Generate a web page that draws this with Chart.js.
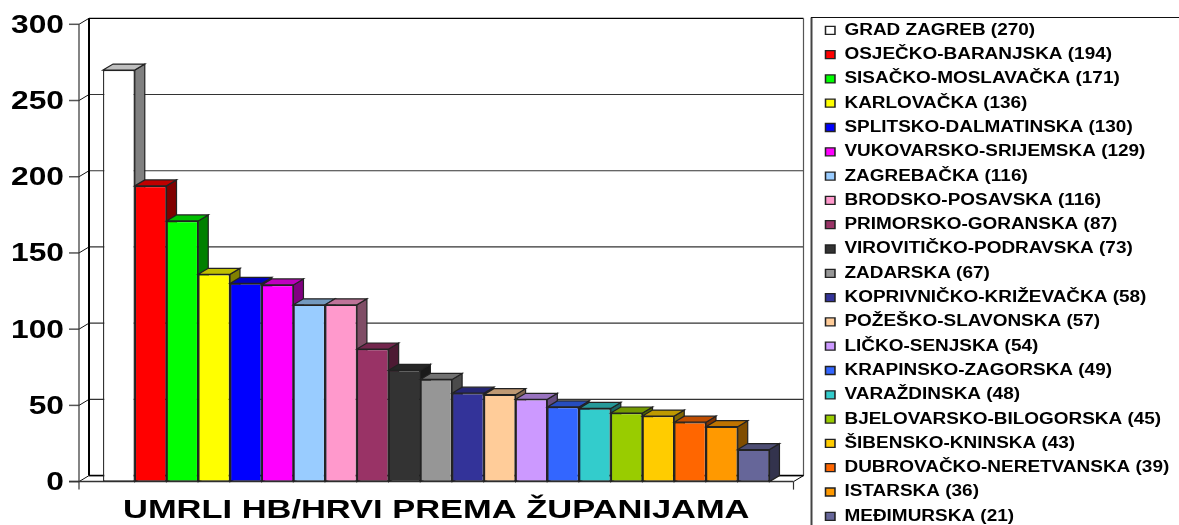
<!DOCTYPE html>
<html>
<head>
<meta charset="utf-8">
<title>Umrli HB/Hrvi prema županijama</title>
<script src="https://cdn.jsdelivr.net/npm/chart.js@4"></script>
<style>
    html, body { margin: 0; padding: 0; background: #fff; overflow: hidden; }
    #wrap { width: 1179px; height: 525px; position: relative; }
</style>
</head>
<body>
<div id="wrap"><canvas id="grafikon"></canvas></div>
<script>
const naslov = 'UMRLI HB/HRVI PREMA ŽUPANIJAMA';
const zupanije = [
    'GRAD ZAGREB', 'OSJEČKO-BARANJSKA', 'SISAČKO-MOSLAVAČKA', 'KARLOVAČKA',
    'SPLITSKO-DALMATINSKA', 'VUKOVARSKO-SRIJEMSKA', 'ZAGREBAČKA', 'BRODSKO-POSAVSKA',
    'PRIMORSKO-GORANSKA', 'VIROVITIČKO-PODRAVSKA', 'ZADARSKA', 'KOPRIVNIČKO-KRIŽEVAČKA',
    'POŽEŠKO-SLAVONSKA', 'LIČKO-SENJSKA', 'KRAPINSKO-ZAGORSKA', 'VARAŽDINSKA',
    'BJELOVARSKO-BILOGORSKA', 'ŠIBENSKO-KNINSKA', 'DUBROVAČKO-NERETVANSKA', 'ISTARSKA', 'MEĐIMURSKA'
];
const umrli = [270, 194, 171, 136, 130, 129, 116, 116, 87, 73, 67, 58, 57, 54, 49, 48, 45, 43, 39, 36, 21];
const boje = [
    '#ffffff', '#ff0000', '#00ff00', '#ffff00', '#0000ff', '#ff00ff', '#99ccff', '#ff99cc',
    '#993366', '#333333', '#969696', '#333399', '#ffcc99', '#cc99ff', '#3366ff', '#33cccc',
    '#99cc00', '#ffcc00', '#ff6600', '#ff9900', '#666699'
];

// pomak dubine za 3D izgled
const dubinaX = 10;
const dubinaY = -6;
const legendaX = 825.5;
const legendaPadding = 8.3;

function zatamni(hex, k) {
    const n = parseInt(hex.slice(1), 16);
    const r = Math.round((n >> 16 & 255) * k);
    const g = Math.round((n >> 8 & 255) * k);
    const b = Math.round((n & 255) * k);
    return `rgb(${r},${g},${b})`;
}

function linija(ctx, x1, y1, x2, y2, boja, debljina) {
    ctx.strokeStyle = boja;
    ctx.lineWidth = debljina;
    ctx.beginPath();
    ctx.moveTo(x1, y1);
    ctx.lineTo(x2, y2);
    ctx.stroke();
}

function poligon(ctx, tocke, boja) {
    ctx.fillStyle = boja;
    ctx.strokeStyle = '#222';
    ctx.lineWidth = 1.2;
    ctx.beginPath();
    tocke.forEach((t, i) => i ? ctx.lineTo(t[0], t[1]) : ctx.moveTo(t[0], t[1]));
    ctx.closePath();
    ctx.fill();
    ctx.stroke();
}

// original je vodoravno razvučena slika pa se i tekst razvlači
function rozvuci(obj, metoda, ctx, x, k, dy) {
    if (obj.rozvuceno) return;
    obj.rozvuceno = true;
    const staro = obj[metoda];
    obj[metoda] = function (...args) {
        ctx.save();
        ctx.translate(x, dy);
        ctx.scale(k, 1);
        ctx.translate(-x, 0);
        staro.apply(this, args);
        ctx.restore();
    };
}

const zidovi = {
    id: 'zidovi',
    beforeDatasetsDraw(chart) {
        const ctx = chart.ctx;
        const { left, right, bottom } = chart.chartArea;
        const y = chart.scales.y;
        ctx.save();
        y.ticks.forEach(t => {
            const py = y.getPixelForValue(t.value);
            const boja = t.value === y.max ? '#000' : '#333';
            linija(ctx, left - 10, py, left, py, '#555', 1.5);
            linija(ctx, left, py, left + dubinaX, py + dubinaY, '#111', 1);
            linija(ctx, left + dubinaX, py + dubinaY, right + dubinaX, py + dubinaY, boja, 1.2);
        });
        linija(ctx, left + dubinaX, y.top + dubinaY, left + dubinaX, bottom + dubinaY, '#000', 2);
        linija(ctx, right + dubinaX, y.top + dubinaY, right + dubinaX, bottom + dubinaY, '#555', 1.2);
        linija(ctx, left + dubinaX, bottom + dubinaY, right + dubinaX, bottom + dubinaY, '#000', 1.5);
        linija(ctx, right, bottom, right + dubinaX, bottom + dubinaY, '#000', 1);
        linija(ctx, left, y.top, left, bottom + 8, '#333', 1.2);
        linija(ctx, left - 10, bottom, right, bottom, '#333', 1.5);
        linija(ctx, right, bottom, right, bottom + 8, '#333', 1.2);
        ctx.restore();
    },
    beforeDatasetDraw() {
        // stupce crta afterDatasetsDraw, slijeva nadesno
        return false;
    },
    afterDatasetsDraw(chart) {
        const ctx = chart.ctx;
        chart.data.datasets.forEach((ds, i) => {
            const el = chart.getDatasetMeta(i).data[0];
            const l = el.x - el.width / 2;
            const r = el.x + el.width / 2;
            ctx.save();
            poligon(ctx, [[r, el.y], [r + dubinaX, el.y + dubinaY], [r + dubinaX, el.base + dubinaY], [r, el.base]],
                zatamni(ds.backgroundColor, 0.5));
            poligon(ctx, [[l, el.y], [l + dubinaX, el.y + dubinaY], [r + dubinaX, el.y + dubinaY], [r, el.y]],
                zatamni(ds.backgroundColor, 0.75));
            ctx.restore();
            el.draw(ctx);
        });
    }
};

// okvir legende, odrezan rubom slike, kao u originalu
const okvirLegende = {
    id: 'okvirLegende',
    beforeDraw(chart) {
        const ctx = chart.ctx;
        chart.legend.left = legendaX - legendaPadding;
        chart.legend.right = 1400;
        chart.legend.top = 14;
        chart.legend.bottom = 600;
        rozvuci(chart.legend, 'draw', ctx, legendaX, 1.185, 0);
        rozvuci(chart.scales.y, 'drawLabels', ctx, chart.chartArea.left - 15, 1.27, 1.5);
        rozvuci(chart.scales.x, 'drawLabels', ctx, (chart.chartArea.left + chart.chartArea.right) / 2, 1.325, 0);
    },
    afterDraw(chart) {
        const ctx = chart.ctx;
        ctx.save();
        linija(ctx, 811.5, 525, 811.5, 17.5, '#444', 2);
        linija(ctx, 811, 17.5, 1179, 17.5, '#111', 1);
        ctx.restore();
    }
};

new Chart(document.getElementById('grafikon'), {
    type: 'bar',
    data: {
        labels: [naslov],
        datasets: zupanije.map((z, i) => ({
            label: `${z} (${umrli[i]})`,
            data: [umrli[i]],
            backgroundColor: boje[i],
            borderColor: '#222',
            borderWidth: 1.3,
            borderSkipped: false
        }))
    },
    options: {
        responsive: true,
        maintainAspectRatio: false,
        animation: false,
        categoryPercentage: 0.9327,
        barPercentage: 1,
        layout: { padding: { right: 121 } },
        scales: {
            x: {
                grid: { display: false, drawTicks: false },
                border: { display: false },
                afterFit(scale) { scale.height = 43.4; },
                ticks: {
                    color: '#000',
                    padding: 14,
                    maxRotation: 0,
                    font: { family: '"Liberation Sans"', weight: 'bold', size: 26 }
                }
            },
            y: {
                min: 0,
                max: 300,
                grid: { display: false, drawTicks: false },
                border: { display: false },
                afterFit(scale) { scale.width = 79; scale.paddingTop = 24.3; },
                ticks: {
                    stepSize: 50,
                    color: '#000',
                    padding: 15,
                    font: { family: '"Liberation Sans"', weight: 'bold', size: 25 }
                }
            }
        },
        plugins: {
            tooltip: { enabled: false },
            legend: {
                position: 'right',
                align: 'start',
                labels: {
                    boxWidth: 8,
                    boxHeight: 8,
                    padding: legendaPadding,
                    color: '#000',
                    font: { family: '"Liberation Sans"', weight: 'bold', size: 16 }
                }
            }
        }
    },
    plugins: [zidovi, okvirLegende]
});
</script>
</body>
</html>
